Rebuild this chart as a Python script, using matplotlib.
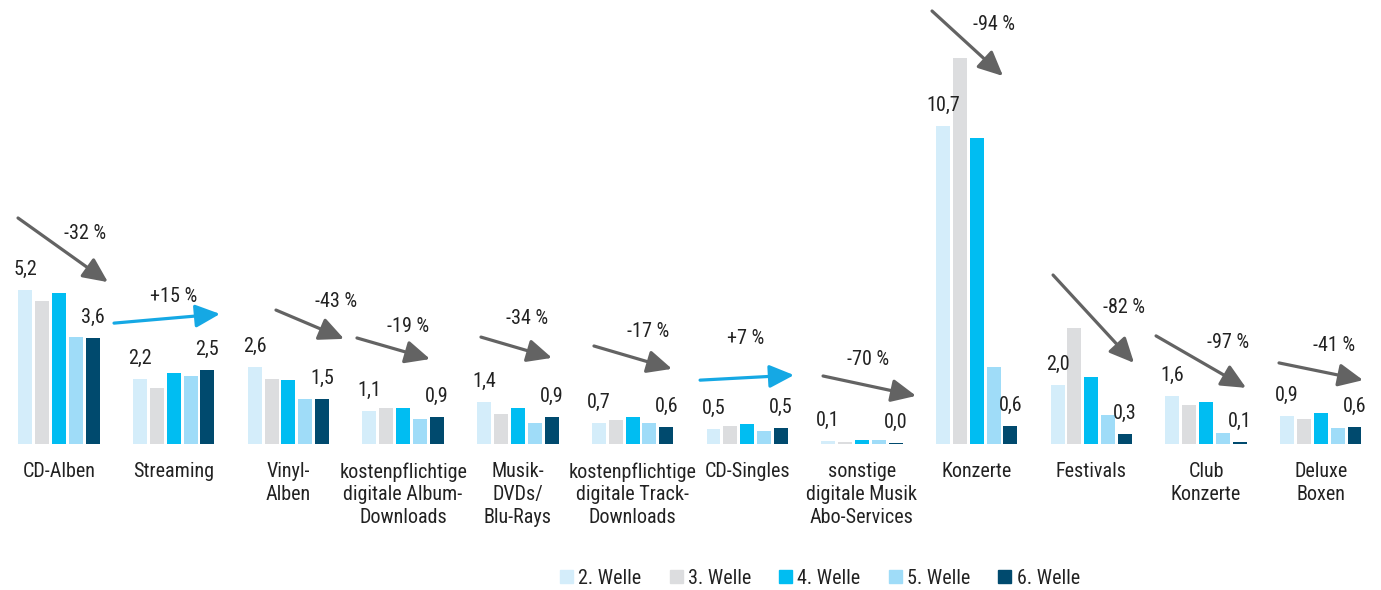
import numpy as np
import matplotlib.pyplot as plt
from matplotlib import font_manager as fm
from matplotlib.patches import Patch

installed = set(f.name for f in fm.fontManager.ttflist)
if 'Roboto Condensed' in installed:
    plt.rcParams['font.family'] = ['Roboto Condensed', 'DejaVu Sans']
else:
    plt.rcParams['font.family'] = ['DejaVu Sans']
    plt.rcParams['font.stretch'] = 'condensed'
plt.rcParams['font.weight'] = 'normal'

categories = ['CD-Alben', 'Streaming', 'Vinyl-\nAlben', 'kostenpflichtige\ndigitale Album-\nDownloads',
              'Musik-\nDVDs/\nBlu-Rays', 'kostenpflichtige\ndigitale Track-\nDownloads', 'CD-Singles',
              'sonstige\ndigitale Musik\nAbo-Services', 'Konzerte', 'Festivals', 'Club\nKonzerte', 'Deluxe\nBoxen']
series = ['2. Welle', '3. Welle', '4. Welle', '5. Welle', '6. Welle']
welle2 = [5.2, 2.2, 2.6, 1.1, 1.4, 0.7, 0.5, 0.09, 10.7, 2.0, 1.6, 0.94]
welle3 = [4.8, 1.9, 2.2, 1.2, 1.0, 0.8, 0.6, 0.08, 13.0, 3.9, 1.3, 0.85]
welle4 = [5.1, 2.4, 2.15, 1.2, 1.2, 0.9, 0.66, 0.13, 10.3, 2.25, 1.4, 1.03]
welle5 = [3.6, 2.3, 1.5, 0.85, 0.7, 0.7, 0.45, 0.13, 2.6, 0.97, 0.38, 0.54]
welle6 = [3.56, 2.5, 1.5, 0.9, 0.9, 0.57, 0.54, 0.03, 0.62, 0.33, 0.06, 0.56]
changes = ['-32 %', '+15 %', '-43 %', '-19 %', '-34 %', '-17 %', '+7 %', '-70 %', '-94 %', '-82 %', '-97 %', '-41 %']

colors = ['#d4edfa', '#dcdddf', '#00bdf2', '#9fdcf8', '#004a6e']
arrow_gray = '#636363'
arrow_blue = '#15a8e4'
text_col = '#222222'

# arrow layout per category: (tail dx, tail y, head dx, head y, label dx, label y)
arrow_pos = [(-0.357, 7.61, 0.427, 5.45, 0.227, 7.10),
             (-0.520, 4.07, 0.404, 4.38, 0.003, 4.95),
             (-0.108, 4.51, 0.485, 3.54, 0.415, 4.81),
             (-0.402, 3.57, 0.235, 2.86, 0.043, 3.97),
             (-0.321, 3.60, 0.298, 2.90, 0.080, 4.21),
             (-0.336, 3.30, 0.344, 2.53, 0.135, 3.80),
             (-0.411, 2.15, 0.408, 2.32, -0.010, 3.54),
             (-0.339, 2.29, 0.472, 1.62, 0.053, 2.86),
             (-0.389, 14.58, 0.230, 12.39, 0.152, 14.11),
             (-0.334, 5.69, 0.372, 2.73, 0.285, 4.58),
             (-0.436, 3.64, 0.349, 1.89, 0.192, 3.43),
             (-0.364, 2.73, 0.369, 2.15, 0.116, 3.30)]

data = [welle2, welle3, welle4, welle5, welle6]
x = np.arange(len(categories))

fig = plt.figure(figsize=(13.81, 5.90), dpi=100)
ax = fig.add_axes([0, 146 / 590, 1, 444 / 590])

step = 0.147
for k, vals in enumerate(data):
    bars = ax.bar(x + (k - 2) * step, vals, width=0.122, color=colors[k], label=series[k])
    if k in (0, 4):
        for b, v in zip(bars, vals):
            ax.annotate(f'{v:.1f}'.replace('.', ','), (b.get_x() + b.get_width() / 2, v),
                        xytext=(0, 8), textcoords='offset points', ha='center', va='bottom',
                        fontsize=14.5, color=text_col)

for i, (tx, ty, hx, hy, lx, ly) in enumerate(arrow_pos):
    col = arrow_blue if changes[i].startswith('+') else arrow_gray
    ax.annotate('', xy=(i + hx, hy), xytext=(i + tx, ty),
                arrowprops=dict(arrowstyle='-|>,head_length=0.75,head_width=0.35', mutation_scale=20,
                                lw=2.3, color=col, shrinkA=0, shrinkB=0))
    ax.text(i + lx, ly, changes[i], ha='center', va='center', fontsize=14.5, color=text_col)

ax.set_xlim(-0.514, 11.525)
ax.set_ylim(0, 14.95)
ax.set_xticks(x)
ax.set_xticklabels(categories, fontsize=14.5, color=text_col, linespacing=1.25)
ax.tick_params(axis='x', length=0, pad=13)
ax.set_yticks([])
for s in ax.spines.values():
    s.set_visible(False)
ax.patch.set_alpha(0)

handles = [Patch(color=c) for c in colors]
fig.legend(handles, series, loc='center', bbox_to_anchor=(820 / 1381, 1 - 578 / 590), ncol=5,
           frameon=False, fontsize=14.5, handlelength=0.65, handleheight=0.65, handletextpad=0.25,
           columnspacing=1.4, labelcolor=text_col)

fig.savefig('out.png', dpi=100)
